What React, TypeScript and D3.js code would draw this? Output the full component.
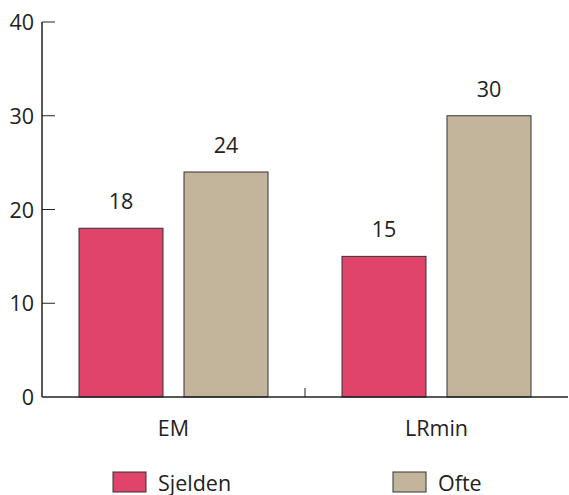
import React from "react";
import * as d3 from "d3";

const categories = ["EM", "LRmin"];
const seriesNames = ["Sjelden", "Ofte"];
const sjelden = [18, 15];
const ofte = [24, 30];
const yTicks = [0, 10, 20, 30, 40];
const colors = ["#E0446A", "#C3B59B"];

export default function App() {
  const W = 569, H = 495;
  const x0 = 42, x1 = 568, yTop = 22, yBot = 397;
  const y = d3.scaleLinear().domain([0, 40]).range([yBot, yTop]);
  const xBand = d3.scaleBand().domain(categories).range([x0, x1]).paddingInner(0).paddingOuter(0);
  const inner = d3.scaleBand().domain(seriesNames).range([37, xBand.bandwidth() - 37]).paddingInner(0.2);
  const series = [sjelden, ofte];
  const font = "'Open Sans', sans-serif";
  const textColor = "#222";
  const fs = 21.5;
  return (
    <svg width={W} height={H} style={{ position: "absolute", left: 0, top: 0 }} fontFamily={font}>
      {categories.map((c, ci) =>
        seriesNames.map((s, si) => {
          const v = series[si][ci];
          const bx = xBand(c)! + inner(s)!;
          const bw = inner.bandwidth();
          return (
            <g key={c + s}>
              <rect x={bx} y={y(v)} width={bw} height={yBot - y(v)} fill={colors[si]} stroke="#333" strokeWidth={1} />
              <text x={bx + bw / 2} y={y(v) - 19} textAnchor="middle" fontSize={fs} fill={textColor}>{v}</text>
            </g>
          );
        })
      )}
      <line x1={x0} x2={x0} y1={yTop} y2={yBot} stroke="#222" strokeWidth={1.5} />
      <line x1={x0} x2={x1} y1={yBot} y2={yBot} stroke="#222" strokeWidth={1.5} />
      {yTicks.map(t => (
        <g key={t}>
          {t > 0 && <line x1={x0} x2={x0 + 13} y1={y(t)} y2={y(t)} stroke="#222" strokeWidth={1} />}
          <text x={34} y={y(t) + 8} textAnchor="end" fontSize={fs} fill={textColor}>{t}</text>
        </g>
      ))}
      <line x1={xBand("LRmin")!} x2={xBand("LRmin")!} y1={yBot} y2={yBot - 9} stroke="#222" strokeWidth={1} />
      {categories.map(c => (
        <text key={c} x={xBand(c)! + xBand.bandwidth() / 2} y={436} textAnchor="middle" fontSize={fs} fill={textColor}>{c}</text>
      ))}
      {seriesNames.map((s, i) => {
        const lx = [113, 393][i];
        return (
          <g key={s}>
            <rect x={lx} y={472} width={33} height={20} fill={colors[i]} stroke="#333" strokeWidth={1} />
            <text x={lx + 45} y={491} fontSize={fs} fill={textColor}>{s}</text>
          </g>
        );
      })}
    </svg>
  );
}
